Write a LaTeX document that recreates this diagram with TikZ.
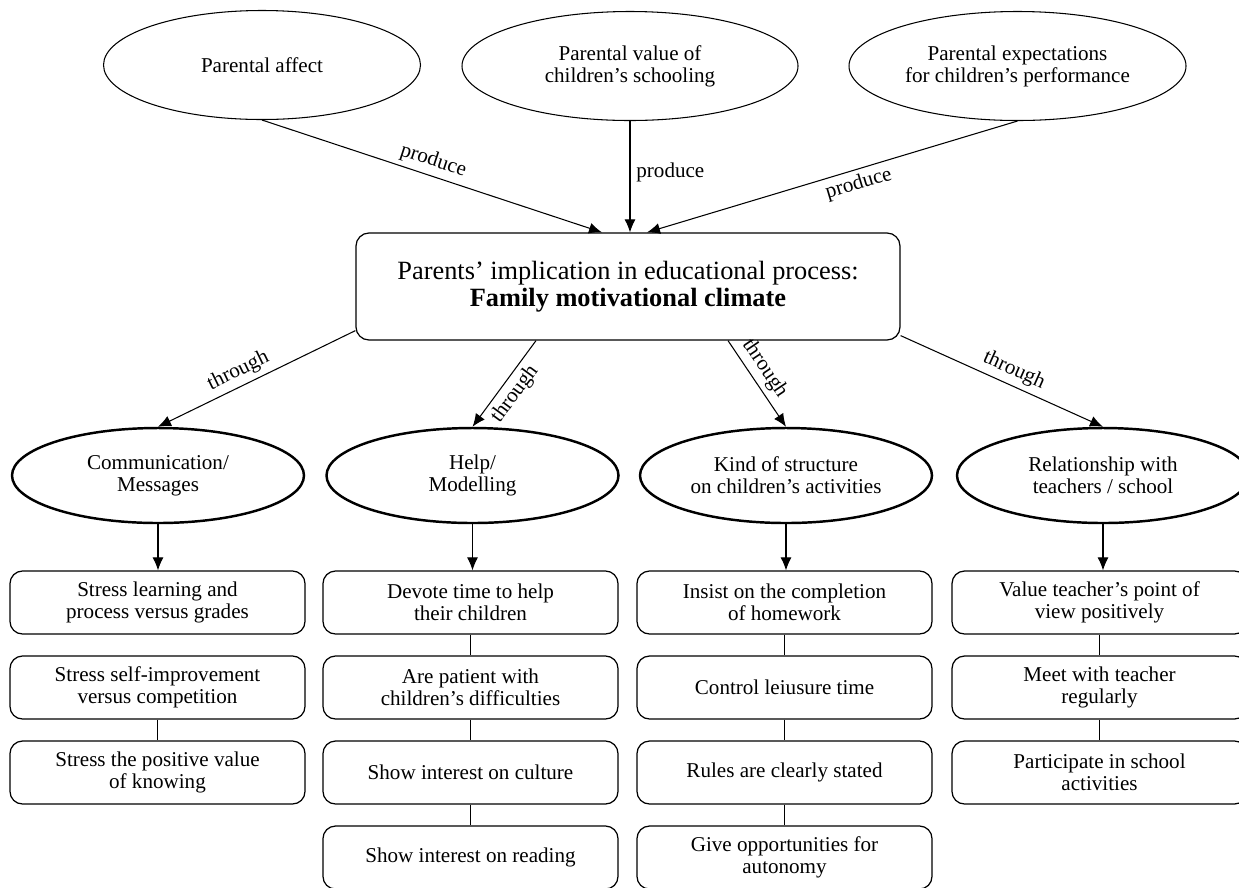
\documentclass[tikz,border=0pt]{standalone}
\usepackage{fontspec}
\setmainfont{Liberation Serif}
\usetikzlibrary{shapes.geometric,arrows.meta}

\begin{document}
\begin{tikzpicture}[
  every node/.style={font=\fontsize{12}{12.5}\selectfont, align=center},
  source/.style={draw, ellipse, line width=0.6pt, minimum width=6.34cm, minimum height=2.18cm, inner sep=0pt},
  way/.style={draw, ellipse, line width=1.4pt, minimum width=5.84cm, minimum height=1.90cm, inner sep=0pt},
  item/.style={draw, rounded corners=0.25cm, line width=0.7pt, minimum width=5.9cm, minimum height=1.26cm, inner sep=0pt},
  link/.style={-{Latex[length=2.6mm,width=2.2mm]}, line width=0.6pt},
  tag/.style={sloped, inner sep=1pt, outer sep=2pt}
]
\useasboundingbox (0,0) rectangle (24.78,-17.74);

% Sources
\node[source] (affect) at (5.24,-1.30) {Parental affect};
\node[source, minimum width=6.72cm] (value) at (12.60,-1.32) {Parental value of\\children's schooling};
\node[source, minimum width=6.74cm] (expect) at (20.35,-1.32) {Parental expectations\\for children's performance};

% Climate box
\node[draw, rounded corners=0.26cm, line width=0.7pt, minimum width=10.88cm, minimum height=2.14cm,
  font=\fontsize{15}{15.5}\selectfont] (climate) at (12.56,-5.73)
  {Parents' implication in educational process:\\\textbf{Family motivational climate}};

% Produce arrows
\draw[link] (affect.south) -- node[tag, above, pos=0.49] {produce} ([xshift=-0.52cm]climate.north);
\draw[link] (value.south) -- node[right, pos=0.46] {produce} (value.south |- climate.north);
\draw[link] (expect.south) -- node[tag, below, pos=0.44] {produce} ([xshift=0.38cm]climate.north);

% Ways
\node[way] (comm) at (3.16,-9.51) {Communication/\\Messages};
\node[way] (help) at (9.45,-9.51) {Help/\\Modelling};
\node[way] (kind) at (15.72,-9.51) {Kind of structure\\on children's activities};
\node[way] (rel) at (22.06,-9.51) {Relationship with\\teachers / school};

% Through arrows
\draw[link] ([yshift=0.2cm]climate.south west) -- node[tag, above, pos=0.56] {through} (comm.north);
\draw[link] ([xshift=-1.84cm]climate.south) -- node[tag, below, pos=0.52] {through} (help.north);
\draw[link] ([xshift=2.0cm]climate.south) -- node[tag, above, pos=0.42] {through} (kind.north);
\draw[link] ([yshift=0.1cm]climate.south east) -- node[tag, above, pos=0.53] {through} (rel.north);

% Communication column
\node[item] (comm1) at (3.15,-12.05) {Stress learning and\\process versus grades};
\node[item] (comm2) at (3.15,-13.75) {Stress self-improvement\\versus competition};
\node[item] (comm3) at (3.15,-15.45) {Stress the positive value\\of knowing};

% Help column
\node[item] (help1) at (9.41,-12.05) {Devote time to help\\their children};
\node[item] (help2) at (9.41,-13.75) {Are patient with\\children's difficulties};
\node[item] (help3) at (9.41,-15.45) {Show interest on culture};
\node[item] (help4) at (9.41,-17.15) {Show interest on reading};

% Structure column
\node[item] (kind1) at (15.69,-12.05) {Insist on the completion\\of homework};
\node[item] (kind2) at (15.69,-13.75) {Control leiusure time};
\node[item] (kind3) at (15.69,-15.45) {Rules are clearly stated};
\node[item] (kind4) at (15.69,-17.15) {Give opportunities for\\autonomy};

% Relationship column
\node[item] (rel1) at (21.99,-12.05) {Value teacher's point of\\view positively};
\node[item] (rel2) at (21.99,-13.75) {Meet with teacher\\regularly};
\node[item] (rel3) at (21.99,-15.45) {Participate in school\\activities};

% Ways to items
\draw[link] (comm.south) -- (comm.south |- comm1.north);
\draw[link] (help.south) -- (help.south |- help1.north);
\draw[link] (kind.south) -- (kind.south |- kind1.north);
\draw[link] (rel.south) -- (rel.south |- rel1.north);

% Item links
\draw[line width=0.6pt] (comm2) -- (comm3);
\draw[line width=0.6pt] (help1) -- (help2);
\draw[line width=0.6pt] (help2) -- (help3);
\draw[line width=0.6pt] (help3) -- (help4);
\draw[line width=0.6pt] (kind1) -- (kind2);
\draw[line width=0.6pt] (kind2) -- (kind3);
\draw[line width=0.6pt] (kind3) -- (kind4);
\draw[line width=0.6pt] (rel1) -- (rel2);
\draw[line width=0.6pt] (rel2) -- (rel3);

\end{tikzpicture}
\end{document}
